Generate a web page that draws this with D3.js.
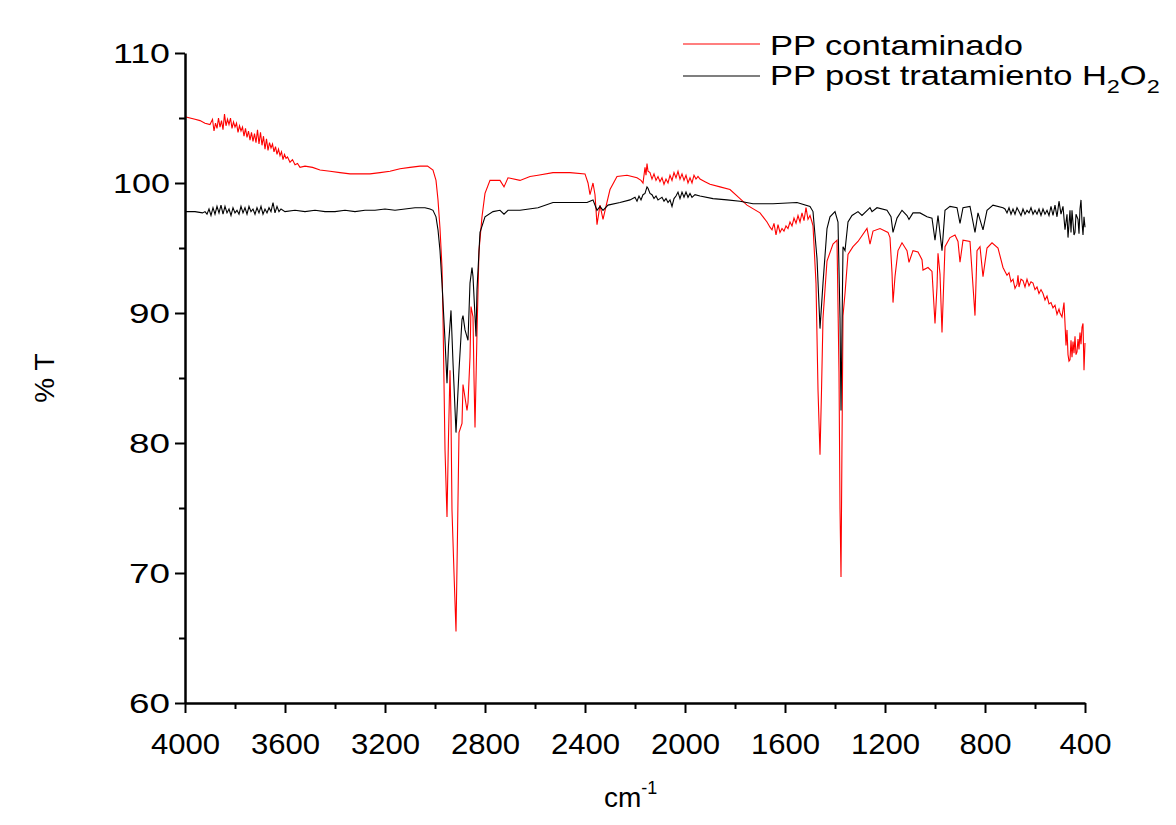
<!DOCTYPE html>
<html>
<head>
<meta charset="utf-8">
<script src="https://cdn.jsdelivr.net/npm/d3@7"></script>
<style>
  body { margin: 0; background: #fff; }
  text { font-family: "Liberation Sans", Arial, sans-serif; fill: #000; }
</style>
</head>
<body>
<div id="main"></div>
<script>
const ctx = {
    w: 1176,
    h: 825,
    left: 185,
    right: 1085,
    top: 53,
    bottom: 703,
};

// x ticks (cm-1), y ticks (% T)
const X_MAJOR = [4000, 3600, 3200, 2800, 2400, 2000, 1600, 1200, 800, 400];
const X_MINOR = [3800, 3400, 3000, 2600, 2200, 1800, 1400, 1000, 600];
const Y_MAJOR = [60, 70, 80, 90, 100, 110];
const Y_MINOR = [65, 75, 85, 95, 105];

const SERIES_NAMES = ["PP contaminado", "PP post tratamiento"];

// PP contaminado : [wavenumber, %T]
const contaminado = [
    [4000, 105.1], [3980, 105.0], [3960, 104.9], [3940, 104.8], [3920, 104.6], [3900, 104.5],
    [3890, 104.9], [3884, 104.0], [3878, 104.6], [3872, 104.2], [3866, 105.0], [3860, 104.3],
    [3854, 104.8], [3848, 104.1], [3842, 105.3], [3836, 104.4], [3830, 104.9], [3824, 104.5],
    [3818, 105.0], [3812, 104.2], [3806, 104.7], [3800, 104.3], [3794, 104.6], [3788, 103.9],
    [3782, 104.4], [3776, 104.0], [3770, 104.3], [3764, 103.6], [3758, 104.2], [3752, 103.5],
    [3746, 104.0], [3740, 103.3], [3734, 103.9], [3728, 103.2], [3722, 103.8], [3716, 103.1],
    [3710, 104.1], [3704, 103.0], [3698, 103.9], [3692, 102.9], [3686, 103.6], [3680, 102.6],
    [3674, 103.4], [3668, 102.5], [3662, 103.1], [3656, 102.7], [3650, 103.0], [3644, 102.4],
    [3638, 102.8], [3632, 102.2], [3626, 102.6], [3620, 102.1], [3614, 102.4], [3608, 101.8],
    [3602, 102.2], [3596, 101.9], [3590, 102.0], [3580, 101.6], [3570, 101.8], [3560, 101.4],
    [3550, 101.5], [3540, 101.2], [3520, 101.3], [3490, 101.2], [3460, 101.0], [3420, 100.9],
    [3380, 100.8], [3340, 100.7], [3300, 100.7], [3260, 100.7], [3220, 100.8], [3180, 100.9],
    [3140, 101.1], [3100, 101.2], [3060, 101.3], [3030, 101.3], [3008, 101.0], [2996, 100.2],
    [2988, 98.7], [2980, 96.5], [2972, 93.5], [2968, 89.7], [2960, 79.5], [2952, 74.3],
    [2946, 80.5], [2940, 85.6], [2936, 82.0], [2932, 74.8], [2924, 70.0], [2916, 65.5],
    [2910, 73.0], [2904, 80.8], [2892, 81.5], [2888, 84.5], [2880, 83.5], [2872, 82.5],
    [2868, 83.1], [2860, 86.6], [2856, 90.5], [2848, 89.7], [2844, 85.0], [2840, 81.2],
    [2832, 88.5], [2824, 94.8], [2812, 97.4], [2800, 99.2], [2780, 100.2], [2740, 100.2],
    [2724, 99.7], [2708, 100.4], [2660, 100.2], [2620, 100.5], [2588, 100.6], [2528, 100.8],
    [2460, 100.8], [2400, 100.7], [2388, 100.0], [2380, 99.1], [2368, 100.0], [2360, 99.1],
    [2352, 96.8], [2340, 98.3], [2328, 97.2], [2316, 98.2], [2300, 99.5], [2272, 100.5],
    [2232, 100.6], [2192, 100.4], [2176, 100.2], [2168, 100.0], [2160, 101.2], [2156, 100.6],
    [2152, 101.5], [2148, 100.9], [2140, 100.8], [2132, 100.3], [2124, 100.7], [2116, 100.2],
    [2108, 100.5], [2100, 100.1], [2092, 100.4], [2084, 99.9], [2076, 100.3], [2068, 100.0],
    [2060, 100.6], [2052, 100.2], [2044, 100.8], [2036, 100.4], [2028, 100.9], [2020, 100.3],
    [2012, 100.7], [2004, 100.2], [1996, 100.6], [1988, 100.0], [1980, 100.4], [1972, 100.0],
    [1964, 100.6], [1956, 100.3], [1948, 100.5], [1940, 100.3], [1920, 100.1], [1900, 99.9],
    [1860, 99.7], [1820, 99.5], [1780, 98.8], [1752, 98.3], [1700, 97.7], [1672, 97.0],
    [1660, 96.6], [1652, 96.4], [1644, 96.9], [1636, 96.0], [1628, 96.8], [1620, 96.2],
    [1612, 96.5], [1604, 96.3], [1596, 96.7], [1588, 96.5], [1580, 97.0], [1572, 96.7],
    [1564, 97.3], [1556, 96.9], [1548, 97.5], [1540, 97.0], [1532, 97.7], [1524, 97.1],
    [1516, 98.1], [1508, 97.2], [1500, 97.5], [1492, 97.0], [1488, 96.7], [1476, 92.3],
    [1468, 84.1], [1460, 79.1], [1454, 84.0], [1448, 89.6], [1432, 94.0], [1408, 95.3],
    [1392, 95.6], [1384, 85.5], [1380, 75.0], [1376, 69.7], [1372, 80.0], [1368, 89.8],
    [1360, 91.5], [1348, 94.5], [1328, 95.1], [1308, 95.5], [1272, 96.5], [1260, 95.3],
    [1248, 96.3], [1220, 96.5], [1188, 96.2], [1180, 95.8], [1172, 93.1], [1168, 90.8],
    [1160, 92.8], [1148, 94.8], [1132, 95.4], [1112, 94.8], [1104, 93.9], [1088, 94.8],
    [1068, 94.7], [1052, 94.1], [1048, 93.3], [1028, 93.5], [1012, 93.2], [1000, 89.2],
    [992, 92.0], [988, 94.6], [980, 93.0], [972, 88.5], [960, 95.1], [940, 95.8],
    [920, 96.0], [908, 95.5], [900, 93.9], [888, 95.6], [860, 95.5], [840, 89.8],
    [832, 94.8], [820, 95.1], [808, 92.8], [792, 95.0], [772, 95.4], [748, 95.0],
    [728, 93.5], [720, 93.2], [712, 92.9], [704, 93.1], [696, 92.4], [688, 92.6],
    [680, 91.9], [672, 92.2], [668, 92.9], [664, 92.0], [656, 92.6], [648, 92.5],
    [640, 92.0], [632, 92.6], [624, 92.1], [616, 92.4], [608, 92.3], [600, 91.8],
    [592, 92.0], [584, 91.5], [576, 91.8], [568, 91.5], [560, 91.0], [552, 91.3],
    [544, 90.7], [536, 90.8], [528, 90.4], [520, 90.6], [512, 89.9], [504, 90.3],
    [500, 90.0], [492, 89.7], [484, 90.8], [480, 89.2], [476, 87.5], [472, 88.7],
    [468, 86.8], [464, 86.3], [460, 86.4], [456, 87.9], [452, 86.6], [448, 87.8],
    [444, 86.9], [440, 88.2], [436, 86.8], [432, 87.0], [428, 88.0], [424, 87.2],
    [420, 88.5], [416, 87.6], [412, 88.9], [408, 89.2], [404, 85.6], [400, 87.7]
];

// PP post tratamiento H2O2 : [wavenumber, %T]
const postTratamiento = [
    [4000, 97.8], [3960, 97.8], [3930, 97.7], [3920, 97.8], [3912, 97.6], [3904, 98.0],
    [3896, 97.5], [3888, 98.1], [3880, 97.6], [3872, 98.2], [3864, 97.7], [3856, 98.3],
    [3848, 97.6], [3840, 98.2], [3832, 97.7], [3824, 98.0], [3816, 97.5], [3808, 98.1],
    [3800, 97.7], [3792, 97.9], [3784, 97.6], [3776, 98.2], [3768, 97.7], [3760, 98.1],
    [3752, 97.6], [3744, 98.2], [3736, 97.8], [3728, 98.0], [3720, 97.6], [3712, 98.1],
    [3704, 97.7], [3696, 98.2], [3688, 97.6], [3680, 98.0], [3672, 97.7], [3664, 98.1],
    [3656, 97.8], [3648, 98.5], [3640, 97.7], [3632, 98.2], [3624, 97.8], [3616, 98.0],
    [3600, 97.8], [3560, 97.9], [3520, 97.8], [3480, 97.9], [3440, 97.8], [3400, 97.8],
    [3360, 97.9], [3320, 97.8], [3280, 97.9], [3240, 97.9], [3200, 98.0], [3160, 97.9],
    [3120, 98.0], [3080, 98.1], [3040, 98.1], [3020, 98.0], [3008, 97.9], [2996, 97.4],
    [2988, 96.4], [2980, 94.8], [2972, 92.3], [2960, 87.9], [2952, 84.6], [2946, 87.5],
    [2936, 90.2], [2928, 86.2], [2916, 80.8], [2904, 85.6], [2892, 89.5], [2888, 89.8],
    [2880, 88.7], [2868, 87.9], [2860, 92.3], [2852, 93.5], [2848, 92.8], [2836, 88.2],
    [2832, 91.8], [2820, 96.2], [2800, 97.4], [2768, 97.8], [2740, 97.9], [2724, 97.6],
    [2708, 97.9], [2660, 97.9], [2588, 98.1], [2528, 98.5], [2460, 98.5], [2392, 98.5],
    [2368, 98.7], [2352, 97.9], [2340, 98.2], [2328, 97.9], [2308, 98.3], [2260, 98.5],
    [2220, 98.7], [2200, 98.9], [2192, 98.6], [2184, 99.0], [2176, 98.7], [2168, 99.1],
    [2160, 99.2], [2152, 99.7], [2148, 99.6], [2140, 99.2], [2132, 99.1], [2124, 98.8],
    [2116, 99.0], [2108, 98.7], [2100, 98.8], [2092, 98.9], [2084, 98.6], [2076, 98.8],
    [2068, 98.5], [2060, 98.7], [2052, 98.2], [2044, 98.8], [2036, 99.0], [2028, 99.3],
    [2020, 98.8], [2012, 99.3], [2004, 98.9], [1996, 99.3], [1988, 98.9], [1980, 99.2],
    [1972, 98.9], [1960, 99.1], [1940, 99.0], [1888, 98.8], [1832, 98.7], [1780, 98.6],
    [1728, 98.4], [1648, 98.4], [1552, 98.5], [1500, 98.2], [1488, 97.8], [1472, 94.2],
    [1460, 88.8], [1448, 92.3], [1432, 96.5], [1420, 97.4], [1400, 97.8], [1388, 97.0],
    [1380, 89.6], [1376, 82.5], [1368, 95.1], [1360, 94.8], [1348, 97.0], [1332, 97.5],
    [1308, 97.8], [1292, 97.5], [1260, 98.1], [1252, 97.8], [1232, 98.1], [1192, 97.9],
    [1176, 97.4], [1168, 96.2], [1152, 97.3], [1132, 97.9], [1112, 97.5], [1104, 97.2],
    [1088, 97.7], [1060, 97.7], [1032, 97.4], [1012, 97.3], [1000, 95.6], [988, 97.5],
    [972, 94.8], [960, 97.9], [940, 98.2], [912, 98.1], [900, 96.9], [888, 98.1],
    [860, 98.2], [840, 96.2], [828, 97.7], [808, 96.4], [792, 97.9], [768, 98.3],
    [728, 98.1], [720, 98.0], [712, 97.7], [704, 98.1], [696, 97.6], [688, 98.0],
    [680, 97.6], [672, 98.1], [664, 97.8], [656, 97.5], [648, 98.0], [640, 97.6],
    [632, 97.9], [624, 97.7], [616, 98.1], [608, 97.6], [600, 97.9], [592, 97.6],
    [584, 98.0], [576, 97.5], [568, 98.0], [560, 97.6], [552, 97.9], [544, 97.5],
    [536, 98.2], [528, 97.5], [520, 98.3], [512, 97.4], [504, 98.6], [496, 97.6],
    [488, 98.2], [480, 96.4], [472, 97.6], [468, 95.8], [460, 97.9], [456, 96.2],
    [452, 97.9], [444, 96.0], [440, 96.2], [436, 97.6], [428, 97.2], [424, 96.1],
    [420, 98.0], [416, 98.7], [412, 97.0], [408, 96.0], [404, 97.4], [400, 96.6]
];

function createViz() {
    let svgEl = d3.select("#main").append("svg")
        .attr("width", ctx.w)
        .attr("height", ctx.h);

    let x = d3.scaleLinear().domain([4000, 400]).range([ctx.left, ctx.right]);
    let y = d3.scaleLinear().domain([60, 110]).range([ctx.bottom, ctx.top]);

    // spectra
    let line = d3.line().x((d) => x(d[0])).y((d) => y(d[1]));
    svgEl.append("path")
        .datum(contaminado)
        .attr("fill", "none")
        .attr("stroke", "#ff0000")
        .attr("stroke-width", 1.1)
        .attr("d", line);
    svgEl.append("path")
        .datum(postTratamiento)
        .attr("fill", "none")
        .attr("stroke", "#000")
        .attr("stroke-width", 1.1)
        .attr("d", line);

    // minor ticks first, then major axes on top
    svgEl.append("g")
        .attr("transform", `translate(0,${ctx.bottom})`)
        .call(d3.axisBottom(x).tickValues(X_MINOR).tickSize(6).tickFormat(""))
        .call((g) => g.select(".domain").remove());
    svgEl.append("g")
        .attr("transform", `translate(${ctx.left},0)`)
        .call(d3.axisLeft(y).tickValues(Y_MINOR).tickSize(6).tickFormat(""))
        .call((g) => g.select(".domain").remove());

    let xAxis = svgEl.append("g")
        .attr("transform", `translate(0,${ctx.bottom})`)
        .call(d3.axisBottom(x).tickValues(X_MAJOR).tickSize(10).tickSizeOuter(0).tickFormat(d3.format("d")));
    xAxis.selectAll("text")
        .attr("y", 51)
        .attr("dy", 0)
        .style("font-size", "29px")
        .attr("textLength", (d) => String(d).length * 17.3)
        .attr("lengthAdjust", "spacingAndGlyphs");

    let yAxis = svgEl.append("g")
        .attr("transform", `translate(${ctx.left},0)`)
        .call(d3.axisLeft(y).tickValues(Y_MAJOR).tickSize(10).tickSizeOuter(0));
    yAxis.selectAll("text")
        .attr("x", -15)
        .attr("dy", "0.36em")
        .style("font-size", "27px")
        .attr("textLength", (d) => (String(d).length == 3 ? 57 : 41))
        .attr("lengthAdjust", "spacingAndGlyphs");

    svgEl.selectAll(".domain").attr("stroke-width", 2.5);
    svgEl.selectAll(".tick line").attr("stroke-width", 2);

    // axis titles
    svgEl.append("text")
        .attr("transform", "translate(54,378) rotate(-90)")
        .attr("text-anchor", "middle")
        .style("font-size", "28px")
        .text("% T");
    let xt = svgEl.append("text")
        .attr("x", 604)
        .attr("y", 807)
        .style("font-size", "28px");
    xt.append("tspan").text("cm");
    xt.append("tspan").attr("dy", -13).style("font-size", "18px").text("-1");

    // legend
    let legendG = svgEl.append("g").attr("id", "legend");
    legendG.append("line")
        .attr("x1", 683).attr("x2", 760).attr("y1", 44).attr("y2", 44)
        .attr("stroke", "#ff0000").attr("stroke-width", 1.1);
    legendG.append("line")
        .attr("x1", 683).attr("x2", 760).attr("y1", 76).attr("y2", 76)
        .attr("stroke", "#000").attr("stroke-width", 1.1);
    legendG.append("text")
        .attr("x", 770).attr("y", 55)
        .style("font-size", "28px")
        .attr("textLength", 253)
        .attr("lengthAdjust", "spacingAndGlyphs")
        .text(SERIES_NAMES[0]);
    // second entry, stretched horizontally to the same look as the first
    let t2g = legendG.append("g");
    let t2 = t2g.append("text")
        .attr("x", 0).attr("y", 0)
        .style("font-size", "28px");
    t2.append("tspan").text(SERIES_NAMES[1] + " H");
    t2.append("tspan").attr("dy", 8).style("font-size", "19px").text("2");
    t2.append("tspan").attr("dy", -8).text("O");
    t2.append("tspan").attr("dy", 8).style("font-size", "19px").text("2");
    let bw = t2.node().getBBox().width;
    t2g.attr("transform", `translate(770,85) scale(${390 / bw},1)`);
}

createViz();
</script>
</body>
</html>
